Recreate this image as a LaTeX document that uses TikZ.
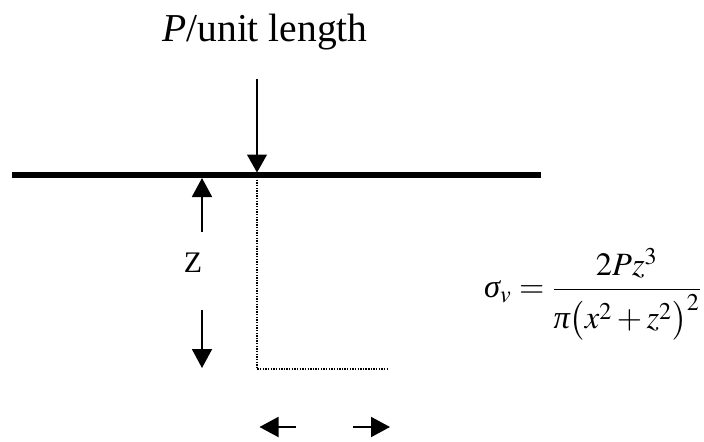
\documentclass[tikz,border=0pt]{standalone}
\usepackage{mathptmx}
\usepackage{fontspec}
\setmainfont{Liberation Serif}
\usetikzlibrary{arrows.meta}
\newcommand{\gsig}{\mbox{\itshape σ}}
\newcommand{\gpi}{\mbox{\itshape π}}

\begin{document}
\begin{tikzpicture}[
        load/.style={line width=0.6pt, -{Triangle[width=0.4cm,length=0.36cm]}},
        dimarrow/.style={line width=1.1pt, -{Triangle[width=0.4cm,length=0.38cm]}},
        trace/.style={line width=1.1pt, dash pattern=on 0.8pt off 0.7pt}
    ]

    \useasboundingbox (0,0) rectangle (14.08,8.82);

    % Ground surface
    \coordinate (surfL) at (0.24,5.32);
    \coordinate (surfR) at (10.82,5.32);
    \draw[line width=3pt] (surfL) -- (surfR);

    % Line load
    \node[font=\fontsize{22.5}{27}\selectfont, anchor=base] (title) at (5.30,8.0) {\textit{P}/unit length};
    \coordinate (loadTop) at (5.14,7.24);
    \coordinate (loadTip) at (5.14,5.37);
    \draw[load] (loadTop) -- (loadTip);

    % Depth z
    \node[font=\fontsize{17}{20}\selectfont] (depth) at (3.86,3.56) {Z};
    \coordinate (upTail) at (4.04,4.18);
    \coordinate (upTip) at (4.04,5.26);
    \coordinate (downTail) at (4.04,2.62);
    \coordinate (downTip) at (4.04,1.46);
    \draw[dimarrow] (upTail) -- (upTip);
    \draw[dimarrow] (downTail) -- (downTip);

    % Point below the load (dotted)
    \coordinate (traceTop) at (5.14,5.28);
    \coordinate (traceCorner) at (5.14,1.44);
    \coordinate (traceEnd) at (7.76,1.44);
    \draw[trace] (traceTop) -- (traceCorner) -- (traceEnd);

    % Horizontal offset x
    \coordinate (leftTail) at (5.92,0.28);
    \coordinate (leftTip) at (5.19,0.28);
    \coordinate (rightTail) at (7.05,0.28);
    \coordinate (rightTip) at (7.80,0.28);
    \draw[dimarrow] (leftTail) -- (leftTip);
    \draw[dimarrow] (rightTail) -- (rightTip);

    % Vertical stress
    \node[font=\fontsize{18.5}{22}\selectfont, anchor=west] (stress) at (9.56,2.94)
        {$\gsig_{v} = \displaystyle\frac{2Pz^{3}}{\gpi\bigl(x^{2}+z^{2}\bigr)^{2}}$};

\end{tikzpicture}
\end{document}
